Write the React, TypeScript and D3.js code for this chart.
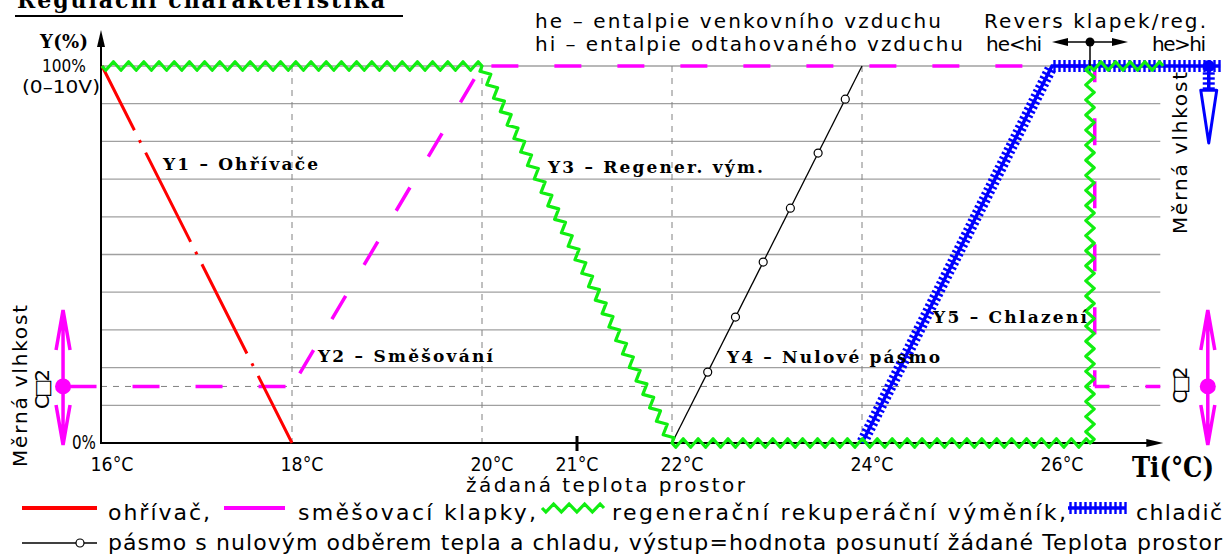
import React, { useEffect, useRef } from 'react';
import * as d3 from 'd3';

type Pt = [number, number];

// regulacni krivky: [teplota Ti (°C), vystup Y (%)]
const heaterY1: Pt[] = [[16, 100], [18, 0]];
const mixingY2: Pt[] = [[15.59, 15], [18, 15], [20, 100], [26.45, 100], [26.45, 15], [27.14, 15]];
const recuperatorY3: Pt[] = [[16, 100], [20, 100], [22, 0], [26.4, 0], [26.4, 100], [27.17, 100]];
const zeroBandY4: Pt[] = [[22, 0], [24, 100]];
const zeroBandMarks = [18.8, 33.4, 48, 62.3, 76.9, 91.2];
const coolingY5: Pt[] = [[24, 0], [26, 100], [27.77, 100]];
const coolingRevers: Pt[] = [[27.65, 100], [27.65, 93.6]];
const reversArrow: Pt[] = [[27.65, 93.6], [27.65, 79.6]];

const xTicks = [16, 18, 20, 21, 22, 24, 26];
const xTickLabels = ['16°C', '18°C', '20°C', '21°C', '22°C', '24°C', '26°C'];
const xGridDashed = [18, 20, 22, 24];
const yGrid = [10, 20, 30, 40, 50, 60, 70, 80, 90, 100];
const co2Level = 15;
const setpoint = 21;
const reversTemp = 26.4;
const xEnd = 27.14;
const markerTemps = [15.59, 27.64];

const W = 1227;
const H = 555;

const SERIF = "'DejaVu Serif', serif";
const CAD = "'DejaVu Sans', sans-serif";
const RED = '#ff0000';
const MAGENTA = '#ff00ff';
const GREEN = '#11ee11';
const BLUE = '#0000ff';

function zigzag(pts: Pt[], period = 15, amp = 4.2): Pt[] {
  const out: Pt[] = [pts[0]];
  for (let i = 1; i < pts.length; i++) {
    const [x0, y0] = pts[i - 1];
    const [x1, y1] = pts[i];
    const len = Math.hypot(x1 - x0, y1 - y0);
    const ux = (x1 - x0) / len, uy = (y1 - y0) / len;
    const nx = -uy, ny = ux;
    const n = Math.max(1, Math.round(len / period));
    const step = len / n;
    for (let k = 0; k < n; k++) {
      const a = k * step + step * 0.25;
      const b = k * step + step * 0.75;
      out.push([x0 + ux * a + nx * amp, y0 + uy * a + ny * amp]);
      out.push([x0 + ux * b - nx * amp, y0 + uy * b - ny * amp]);
    }
    out.push([x1, y1]);
  }
  return out;
}

function hatchTicks(pts: Pt[], spacing = 5, half = 6): [Pt, Pt][] {
  const out: [Pt, Pt][] = [];
  for (let i = 1; i < pts.length; i++) {
    const [x0, y0] = pts[i - 1];
    const [x1, y1] = pts[i];
    const len = Math.hypot(x1 - x0, y1 - y0);
    const ux = (x1 - x0) / len, uy = (y1 - y0) / len;
    const nx = -uy, ny = ux;
    for (let s = spacing / 2; s < len; s += spacing) {
      const cx = x0 + ux * s, cy = y0 + uy * s;
      out.push([[cx + nx * half, cy + ny * half], [cx - nx * half, cy - ny * half]]);
    }
  }
  return out;
}

export default function App() {
  const ref = useRef<SVGSVGElement>(null);

  useEffect(() => {
    const svg = d3.select(ref.current);
    svg.selectAll('*').remove();

    const x = d3.scaleLinear().domain([16, 26]).range([102, 1052]);
    const y = d3.scaleLinear().domain([0, 100]).range([443, 66]);
    const px = (pts: Pt[]): Pt[] => pts.map(([t, v]) => [x(t), y(v)] as Pt);
    const line = d3.line<Pt>().x(d => d[0]).y(d => d[1]);

    const txt = (s: string, tx: number, ty: number, len: number, size: number,
      font = CAD, weight = 'normal', rotate = false, adjust = 'spacing') => {
      const t = svg.append('text')
        .attr('font-family', font)
        .attr('font-size', size)
        .attr('font-weight', weight)
        .attr('fill', '#000')
        .attr('textLength', len)
        .attr('lengthAdjust', adjust)
        .text(s);
      if (rotate) {
        t.attr('text-anchor', 'middle').attr('transform', `translate(${tx},${ty}) rotate(-90)`);
      } else {
        t.attr('x', tx).attr('y', ty);
      }
      return t;
    };

    // mrizka
    const x0 = x(16) - 1, x1 = x(xEnd);
    svg.append('g').selectAll('line').data(yGrid).join('line')
      .attr('x1', x0).attr('x2', x1)
      .attr('y1', d => y(d)).attr('y2', d => y(d))
      .attr('stroke', '#a0a0a0').attr('stroke-width', 1.3);
    svg.append('g').selectAll('line').data(xGridDashed).join('line')
      .attr('x1', d => x(d)).attr('x2', d => x(d))
      .attr('y1', y(100)).attr('y2', y(0))
      .attr('stroke', '#808080').attr('stroke-width', 1).attr('stroke-dasharray', '6,6');
    svg.append('line')
      .attr('x1', x0).attr('x2', x1).attr('y1', y(co2Level)).attr('y2', y(co2Level))
      .attr('stroke', '#808080').attr('stroke-width', 1).attr('stroke-dasharray', '6,6');

    // osy
    svg.append('line').attr('x1', x0).attr('x2', x1 - 10).attr('y1', y(0)).attr('y2', y(0))
      .attr('stroke', '#000').attr('stroke-width', 2);
    svg.append('path')
      .attr('d', `M${x1 + 3},${y(0)} L${x1 - 14},${y(0) - 4} L${x1 - 14},${y(0) + 4} Z`)
      .attr('fill', '#000');
    svg.append('line').attr('x1', x0).attr('x2', x0).attr('y1', y(0) + 1).attr('y2', 42)
      .attr('stroke', '#000').attr('stroke-width', 2);
    svg.append('path')
      .attr('d', `M${x0},30 L${x0 - 4},47 L${x0 + 4},47 Z`)
      .attr('fill', '#000');
    // zadana teplota
    svg.append('line').attr('x1', x(setpoint)).attr('x2', x(setpoint))
      .attr('y1', y(0) - 7).attr('y2', y(0) + 8)
      .attr('stroke', '#000').attr('stroke-width', 3);

    // Y4 nulove pasmo
    svg.append('path').attr('d', line(px(zeroBandY4)))
      .attr('fill', 'none').attr('stroke', '#000').attr('stroke-width', 1.3);
    svg.append('g').selectAll('circle').data(zeroBandMarks).join('circle')
      .attr('cx', d => x(22 + 2 * d / 100)).attr('cy', d => y(d)).attr('r', 4)
      .attr('fill', '#fff').attr('stroke', '#000').attr('stroke-width', 1.2);

    // Y2 smesovaci klapky - carkovane po segmentech
    const mp = px(mixingY2);
    for (let i = 1; i < mp.length; i++) {
      const L = Math.hypot(mp[i][0] - mp[i - 1][0], mp[i][1] - mp[i - 1][1]);
      const n = Math.max(0, Math.round((L - 27) / 63));
      const shift = (n * 63 + 27 - L) / 2;
      svg.append('path').attr('d', line([mp[i - 1], mp[i]]))
        .attr('fill', 'none').attr('stroke', MAGENTA).attr('stroke-width', 3.5)
        .attr('stroke-dasharray', '27,36').attr('stroke-dashoffset', shift);
    }

    // Y1 ohrivac
    svg.append('path').attr('d', line(px(heaterY1)))
      .attr('fill', 'none').attr('stroke', RED).attr('stroke-width', 3)
      .attr('stroke-dasharray', '100,11,3,11').attr('stroke-dashoffset', 28);

    // Y5 chlazeni - srafovana
    const hatched = (pts: Pt[]) => {
      svg.append('path').attr('d', line(pts))
        .attr('fill', 'none').attr('stroke', BLUE).attr('stroke-width', 3.5);
      svg.append('g').selectAll('line').data(hatchTicks(pts)).join('line')
        .attr('x1', d => d[0][0]).attr('y1', d => d[0][1])
        .attr('x2', d => d[1][0]).attr('y2', d => d[1][1])
        .attr('stroke', BLUE).attr('stroke-width', 2.4);
    };
    hatched(px(coolingY5));
    hatched(px(coolingRevers));
    const [ra, rb] = px(reversArrow);
    svg.append('path')
      .attr('d', `M${ra[0] - 8},${ra[1]} L${ra[0] + 8},${ra[1]} L${rb[0]},${rb[1]} Z`)
      .attr('fill', 'none').attr('stroke', BLUE).attr('stroke-width', 3).attr('stroke-linejoin', 'round');
    svg.append('circle').attr('cx', x(coolingRevers[0][0])).attr('cy', y(100)).attr('r', 6).attr('fill', BLUE);

    // Y3 regeneracni vymenik
    svg.append('path').attr('d', line(zigzag(px(recuperatorY3))))
      .attr('fill', 'none').attr('stroke', GREEN).attr('stroke-width', 3.2).attr('stroke-linejoin', 'round');

    // znacky vlhkost / CO2
    markerTemps.forEach(t => {
      const cx = x(t), cy = y(co2Level);
      const top = 310, bot = 445;
      svg.append('circle').attr('cx', cx).attr('cy', cy).attr('r', 8).attr('fill', MAGENTA);
      svg.append('path')
        .attr('d', `M${cx},${top} L${cx},${bot} M${cx - 7},${top + 40} L${cx},${top} L${cx + 7},${top + 40} M${cx - 7},${bot - 40} L${cx},${bot} L${cx + 7},${bot - 40}`)
        .attr('fill', 'none').attr('stroke', MAGENTA).attr('stroke-width', 3.5);
    });

    // revers klapek
    const rx = x(reversTemp);
    svg.append('line').attr('x1', rx).attr('x2', rx).attr('y1', 42).attr('y2', y(100))
      .attr('stroke', '#000').attr('stroke-width', 1.5);
    svg.append('line').attr('x1', rx - 34).attr('x2', rx + 34).attr('y1', 42).attr('y2', 42)
      .attr('stroke', '#000').attr('stroke-width', 1.5);
    svg.append('path')
      .attr('d', `M${rx - 38},42 L${rx - 22},38 L${rx - 22},46 Z M${rx + 38},42 L${rx + 22},38 L${rx + 22},46 Z`)
      .attr('fill', '#000');
    svg.append('circle').attr('cx', rx).attr('cy', 42).attr('r', 4.5).attr('fill', '#000');

    // nadpis
    txt('Regulační charakteristika', 17, 8, 368, 22, SERIF, 'bold');
    svg.append('line').attr('x1', 15).attr('x2', 403).attr('y1', 16).attr('y2', 16)
      .attr('stroke', '#000').attr('stroke-width', 2);

    // popisy os
    txt('Y(%)', 40, 48, 48, 18, SERIF, 'bold');
    txt('100%', 42, 72, 44, 18, CAD, 'normal', false, 'spacingAndGlyphs');
    txt('(0–10V)', 22, 93, 78, 18, CAD, 'normal', false, 'spacingAndGlyphs');
    txt('0%', 72, 449, 24, 19, CAD, 'normal', false, 'spacingAndGlyphs');
    xTicks.forEach((t, i) => {
      const off = t === setpoint ? 0 : 10;
      svg.append('text')
        .attr('x', x(t) + off).attr('y', 471)
        .attr('text-anchor', 'middle')
        .attr('font-family', CAD).attr('font-size', 19)
        .attr('textLength', 43).attr('lengthAdjust', 'spacingAndGlyphs')
        .text(xTickLabels[i]);
    });
    txt('žádaná teplota prostor', 466, 492, 279, 20);
    txt('Ti(°C)', 1132, 477, 82, 28, SERIF, 'bold', false, 'spacingAndGlyphs');

    // popisy krivek
    txt('Y1 – Ohřívače', 163, 170, 155, 17, SERIF, 'bold');
    txt('Y2 – Směšování', 318, 362, 175, 17, SERIF, 'bold');
    txt('Y3 – Regener. vým.', 548, 173, 215, 17, SERIF, 'bold');
    txt('Y4 – Nulové pásmo', 727, 363, 213, 17, SERIF, 'bold');
    txt('Y5 – Chlazení', 933, 323, 154, 17, SERIF, 'bold');

    // horni poznamky
    txt('he – entalpie venkovního vzduchu', 535, 28, 406, 20);
    txt('hi – entalpie odtahovaného vzduchu', 535, 51, 428, 20);
    txt('Revers klapek/reg.', 984, 28, 222, 20);
    txt('he<hi', 986, 51, 56, 20);
    txt('he>hi', 1152, 51, 54, 20);

    // svisle popisy
    txt('Měrná vlhkost', 27, 386, 162, 20, CAD, 'normal', true);
    txt('C□2', 49, 389, 40, 20, CAD, 'normal', true);
    txt('Měrná vlhkost', 1187, 153, 162, 20, CAD, 'normal', true);
    txt('C□2', 1187, 385, 37, 20, CAD, 'normal', true);

    // legenda
    const ly1 = 508, ly2 = 543;
    svg.append('line').attr('x1', 22).attr('x2', 97).attr('y1', ly1).attr('y2', ly1)
      .attr('stroke', RED).attr('stroke-width', 4);
    txt('ohřívač,', 108, 520, 102, 22);
    svg.append('line').attr('x1', 224).attr('x2', 285).attr('y1', ly1).attr('y2', ly1)
      .attr('stroke', MAGENTA).attr('stroke-width', 4);
    txt('směšovací klapky,', 298, 520, 238, 22);
    svg.append('path').attr('d', line(zigzag([[542, ly1], [604, ly1]], 16, 4)))
      .attr('fill', 'none').attr('stroke', GREEN).attr('stroke-width', 3.2);
    txt('regenerační rekuperáční výměník,', 612, 520, 454, 22);
    hatched([[1068, ly1], [1126, ly1]]);
    txt('chladič', 1136, 520, 86, 22);

    svg.append('line').attr('x1', 22).attr('x2', 97).attr('y1', ly2).attr('y2', ly2)
      .attr('stroke', '#000').attr('stroke-width', 1.3);
    svg.append('circle').attr('cx', 80).attr('cy', ly2).attr('r', 4)
      .attr('fill', '#fff').attr('stroke', '#000').attr('stroke-width', 1.2);
    txt('pásmo s nulovým odběrem tepla a chladu, výstup=hodnota posunutí žádané Teplota prostor',
      108, 550, 1114, 22);
  }, []);

  return (
    <svg ref={ref} width={W} height={H}
      style={{ position: 'absolute', left: 0, top: 0, background: '#fff' }} />
  );
}
